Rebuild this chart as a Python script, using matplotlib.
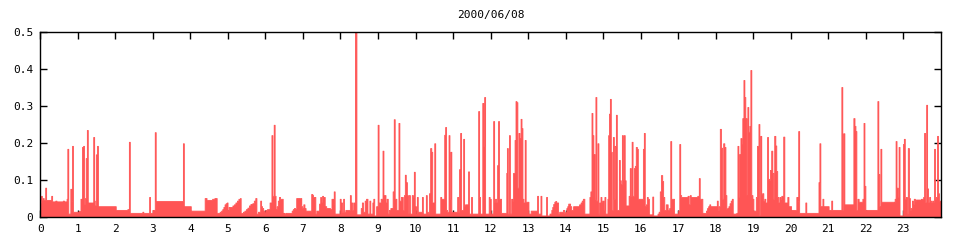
import numpy as np
import matplotlib
matplotlib.use("Agg")
import matplotlib.pyplot as plt

# each pair = (hour where the bar starts, value); a bar lasts until the next pair
hours_00_04 = [
    (0.00, 0.038), (0.02, 0.058), (0.04, 0.047), (0.07, 0.052), (0.09, 0.047),
    (0.13, 0.080), (0.155, 0.047), (0.29, 0.058), (0.315, 0.043), (0.40, 0.045),
    (0.43, 0.043), (0.60, 0.045), (0.63, 0.043), (0.70, 0.050), (0.72, 0.185),
    (0.745, 0.010), (0.80, 0.077), (0.825, 0.045), (0.845, 0.193), (0.87, 0.015),
    (1.02, 0.017), (1.07, 0.050), (1.095, 0.018), (1.11, 0.190), (1.14, 0.193),
    (1.165, 0.035), (1.19, 0.052), (1.21, 0.160), (1.24, 0.236), (1.265, 0.040),
    (1.41, 0.217), (1.435, 0.045), (1.45, 0.032), (1.48, 0.170), (1.51, 0.193),
    (1.535, 0.030), (2.01, 0.020), (2.32, 0.022), (2.345, 0.020), (2.36, 0.204),
    (2.385, 0.012), (2.72, 0.015), (2.745, 0.012), (2.90, 0.055), (2.925, 0.012),
    (2.99, 0.020), (3.05, 0.230), (3.075, 0.044), (3.80, 0.200), (3.825, 0.030),
]
hours_04_09 = [
    (4.01, 0.018), (4.38, 0.052), (4.43, 0.047), (4.58, 0.050), (4.64, 0.052),
    (4.70, 0.012), (4.78, 0.015), (4.82, 0.018), (4.85, 0.022), (4.88, 0.028),
    (4.91, 0.035), (4.94, 0.038), (4.97, 0.040), (4.99, 0.020), (5.02, 0.028),
    (5.12, 0.032), (5.16, 0.035), (5.20, 0.040), (5.24, 0.045), (5.28, 0.050),
    (5.32, 0.052), (5.34, 0.012), (5.40, 0.015), (5.44, 0.018), (5.48, 0.022),
    (5.52, 0.026), (5.56, 0.032), (5.60, 0.036), (5.65, 0.038), (5.69, 0.045),
    (5.73, 0.052), (5.76, 0.010), (5.80, 0.015), (5.86, 0.045), (5.885, 0.030),
    (5.91, 0.025), (5.94, 0.018), (5.97, 0.015), (6.00, 0.020), (6.04, 0.022),
    (6.11, 0.040), (6.16, 0.222), (6.185, 0.058), (6.22, 0.250), (6.245, 0.058),
    (6.27, 0.022), (6.30, 0.030), (6.33, 0.045), (6.36, 0.055), (6.39, 0.050),
    (6.46, 0.005), (6.48, 0.012), (6.51, 0.010), (6.54, 0.012), (6.70, 0.018),
    (6.73, 0.022), (6.76, 0.025), (6.79, 0.022), (6.82, 0.052), (6.91, 0.035),
    (6.93, 0.052), (6.955, 0.030), (6.98, 0.025), (7.01, 0.035), (7.04, 0.025),
    (7.07, 0.018), (7.22, 0.063), (7.25, 0.060), (7.27, 0.055), (7.33, 0.010),
    (7.36, 0.018), (7.43, 0.037), (7.46, 0.055), (7.48, 0.040), (7.51, 0.058),
    (7.535, 0.055), (7.58, 0.030), (7.62, 0.025), (7.72, 0.022), (7.76, 0.050),
    (7.80, 0.035), (7.82, 0.070), (7.845, 0.010), (7.98, 0.050), (8.005, 0.040),
    (8.04, 0.015), (8.07, 0.050), (8.095, 0.015), (8.13, 0.020), (8.25, 0.060),
    (8.275, 0.040), (8.31, 0.020), (8.34, 0.040), (8.385, 0.500), (8.425, 0.008),
    (8.54, 0.025), (8.57, 0.040), (8.60, 0.015), (8.645, 0.045), (8.68, 0.050),
    (8.72, 0.010), (8.77, 0.045), (8.795, 0.010), (8.85, 0.040), (8.875, 0.050),
    (8.90, 0.005), (8.95, 0.030),
]
hours_09_14 = [
    (8.99, 0.250), (9.015, 0.040), (9.07, 0.050), (9.12, 0.180), (9.145, 0.060),
    (9.20, 0.040), (9.23, 0.050), (9.26, 0.010), (9.29, 0.020), (9.33, 0.025),
    (9.39, 0.070), (9.42, 0.265), (9.445, 0.050), (9.49, 0.020), (9.545, 0.255),
    (9.57, 0.045), (9.61, 0.055), (9.66, 0.020), (9.69, 0.060), (9.715, 0.115),
    (9.74, 0.095), (9.77, 0.060), (9.795, 0.012), (9.82, 0.060), (9.85, 0.010),
    (9.90, 0.060), (9.93, 0.055), (9.955, 0.123), (9.98, 0.030), (10.01, 0.012),
    (10.035, 0.055), (10.06, 0.015), (10.17, 0.055), (10.195, 0.010), (10.275, 0.060),
    (10.30, 0.015), (10.33, 0.010), (10.36, 0.065), (10.39, 0.187), (10.42, 0.177),
    (10.445, 0.040), (10.50, 0.200), (10.525, 0.010), (10.66, 0.055), (10.685, 0.050),
    (10.765, 0.223), (10.79, 0.244), (10.815, 0.020), (10.84, 0.015), (10.88, 0.222),
    (10.905, 0.050), (10.93, 0.177), (10.955, 0.015), (11.11, 0.055), (11.135, 0.015),
    (11.16, 0.130), (11.19, 0.228), (11.215, 0.020), (11.27, 0.212), (11.295, 0.030),
    (11.32, 0.035), (11.40, 0.124), (11.425, 0.010), (11.48, 0.055), (11.505, 0.010),
    (11.67, 0.287), (11.695, 0.055), (11.72, 0.010), (11.78, 0.309), (11.805, 0.193),
    (11.83, 0.325), (11.855, 0.010), (11.95, 0.055), (11.975, 0.050), (12.005, 0.010),
    (12.07, 0.260), (12.095, 0.040), (12.12, 0.050), (12.145, 0.040), (12.175, 0.141),
    (12.20, 0.260), (12.225, 0.050), (12.28, 0.012), (12.42, 0.120), (12.435, 0.187),
    (12.46, 0.010), (12.49, 0.222), (12.515, 0.010), (12.55, 0.050), (12.575, 0.045),
    (12.60, 0.120), (12.64, 0.209), (12.665, 0.314), (12.69, 0.311), (12.715, 0.080),
    (12.745, 0.228), (12.77, 0.214), (12.80, 0.266), (12.825, 0.241), (12.85, 0.050),
    (12.875, 0.040), (12.91, 0.209), (12.935, 0.042), (13.01, 0.010), (13.07, 0.018),
    (13.24, 0.058), (13.265, 0.010), (13.33, 0.058), (13.355, 0.005), (13.48, 0.055),
    (13.505, 0.005), (13.57, 0.010), (13.62, 0.020), (13.645, 0.028), (13.67, 0.036),
    (13.70, 0.042), (13.725, 0.044), (13.75, 0.040), (13.80, 0.010), (13.83, 0.015),
    (13.93, 0.020), (13.96, 0.012), (13.99, 0.015), (14.02, 0.025), (14.045, 0.030),
    (14.07, 0.037), (14.12, 0.030), (14.15, 0.020), (14.20, 0.030),
]
hours_14_19 = [
    (14.32, 0.030), (14.36, 0.035), (14.40, 0.040), (14.43, 0.045), (14.46, 0.050),
    (14.50, 0.010), (14.635, 0.055), (14.66, 0.070), (14.69, 0.282), (14.715, 0.222),
    (14.74, 0.171), (14.77, 0.050), (14.795, 0.325), (14.82, 0.045), (14.85, 0.200),
    (14.875, 0.010), (14.90, 0.040), (14.93, 0.055), (14.955, 0.040), (14.98, 0.045),
    (15.01, 0.020), (15.035, 0.055), (15.06, 0.010), (15.115, 0.050), (15.135, 0.222),
    (15.155, 0.280), (15.18, 0.320), (15.205, 0.177), (15.23, 0.020), (15.26, 0.217),
    (15.285, 0.050), (15.31, 0.193), (15.34, 0.277), (15.365, 0.020), (15.42, 0.155),
    (15.445, 0.100), (15.47, 0.090), (15.50, 0.222), (15.525, 0.100), (15.55, 0.222),
    (15.575, 0.100), (15.60, 0.032), (15.68, 0.058), (15.71, 0.133), (15.735, 0.058),
    (15.76, 0.204), (15.785, 0.058), (15.82, 0.133), (15.845, 0.139), (15.87, 0.190),
    (15.90, 0.185), (15.925, 0.050), (16.06, 0.185), (16.085, 0.228), (16.11, 0.030),
    (16.14, 0.035), (16.165, 0.055), (16.19, 0.050), (16.22, 0.008), (16.31, 0.056),
    (16.335, 0.005), (16.45, 0.010), (16.48, 0.015), (16.51, 0.070), (16.54, 0.114),
    (16.575, 0.098), (16.60, 0.055), (16.63, 0.020), (16.67, 0.035), (16.72, 0.020),
    (16.76, 0.025), (16.79, 0.206), (16.815, 0.050), (16.89, 0.010), (17.00, 0.018),
    (17.03, 0.198), (17.055, 0.060), (17.08, 0.055), (17.25, 0.058), (17.28, 0.035),
    (17.31, 0.060), (17.335, 0.055), (17.51, 0.058), (17.55, 0.106), (17.575, 0.050),
    (17.645, 0.012), (17.74, 0.018), (17.77, 0.025), (17.80, 0.030), (17.83, 0.035),
    (17.855, 0.030), (18.03, 0.045), (18.055, 0.020), (18.08, 0.030), (18.11, 0.239),
    (18.14, 0.188), (18.17, 0.050), (18.20, 0.200), (18.23, 0.190), (18.26, 0.060),
    (18.285, 0.022), (18.31, 0.025), (18.34, 0.030), (18.37, 0.038), (18.40, 0.045),
    (18.43, 0.050), (18.455, 0.010), (18.55, 0.012), (18.58, 0.193), (18.605, 0.055),
    (18.63, 0.171), (18.66, 0.214), (18.685, 0.198), (18.71, 0.268), (18.74, 0.371),
    (18.765, 0.325), (18.79, 0.268), (18.82, 0.060), (18.845, 0.298), (18.87, 0.231),
    (18.90, 0.247), (18.925, 0.398), (18.95, 0.060), (18.98, 0.050), (19.005, 0.018),
    (19.07, 0.055), (19.10, 0.193), (19.14, 0.252), (19.165, 0.005),
]
hours_19_24 = [
    (19.19, 0.220), (19.215, 0.060), (19.24, 0.065), (19.27, 0.045), (19.30, 0.050),
    (19.325, 0.040), (19.37, 0.217), (19.395, 0.104), (19.42, 0.100), (19.445, 0.128),
    (19.48, 0.180), (19.51, 0.120), (19.535, 0.050), (19.56, 0.220), (19.59, 0.194),
    (19.615, 0.125), (19.64, 0.055), (19.67, 0.040), (19.70, 0.055), (19.725, 0.050),
    (19.75, 0.058), (19.80, 0.218), (19.83, 0.040), (19.91, 0.055), (19.94, 0.030),
    (20.01, 0.020), (20.15, 0.055), (20.18, 0.045), (20.20, 0.233), (20.225, 0.012),
    (20.39, 0.040), (20.415, 0.012), (20.74, 0.095), (20.765, 0.200), (20.79, 0.030),
    (20.845, 0.050), (20.87, 0.030), (21.01, 0.020), (21.08, 0.045), (21.105, 0.020),
    (21.35, 0.352), (21.375, 0.020), (21.40, 0.227), (21.43, 0.035), (21.67, 0.268),
    (21.70, 0.247), (21.725, 0.233), (21.75, 0.020), (21.78, 0.050), (21.81, 0.042),
    (21.91, 0.050), (21.94, 0.255), (21.965, 0.085), (21.99, 0.020), (22.31, 0.314),
    (22.335, 0.117), (22.36, 0.030), (22.39, 0.185), (22.415, 0.042), (22.76, 0.040),
    (22.77, 0.050), (22.795, 0.206), (22.82, 0.080), (22.85, 0.055), (22.875, 0.190),
    (22.90, 0.005), (22.99, 0.198), (23.015, 0.212), (23.04, 0.050), (23.07, 0.055),
    (23.095, 0.010), (23.12, 0.187), (23.15, 0.052), (23.175, 0.020), (23.20, 0.025),
    (23.23, 0.045), (23.255, 0.035), (23.28, 0.050), (23.31, 0.045), (23.335, 0.048),
    (23.47, 0.050), (23.53, 0.055), (23.555, 0.228), (23.58, 0.040), (23.61, 0.304),
    (23.635, 0.078), (23.66, 0.040), (23.69, 0.055), (23.715, 0.045), (23.74, 0.040),
    (23.77, 0.045), (23.795, 0.040), (23.82, 0.185), (23.845, 0.050), (23.87, 0.055),
    (23.90, 0.220), (23.925, 0.065), (23.95, 0.045),
]

x_labels = [str(h) for h in range(24)]
y_ticks = [0, 0.1, 0.2, 0.3, 0.4, 0.5]
y_labels = ["0", "0.1", "0.2", "0.3", "0.4", "0.5"]
title = "2000/06/08"

rows = hours_00_04 + hours_04_09 + hours_09_14 + hours_14_19 + hours_19_24
rows.sort()
t = np.array([r[0] for r in rows] + [24.0])
v = np.array([r[1] for r in rows] + [rows[-1][1]])

plt.rcParams["font.family"] = "DejaVu Sans Mono"
fig = plt.figure(figsize=(9.6, 2.4), dpi=100)
ax = fig.add_axes([0.042, 0.0946, 0.938, 0.771])

# thin edge in the same colour so 1px spikes don't vanish
ax.fill_between(t, v, step="post", facecolor="#ff5555", edgecolor="#ff5555",
                linewidth=0.6, antialiased=False, zorder=2)

ax.set_xlim(0, 24)
ax.set_ylim(0, 0.5)
ax.set_xticks(range(24))
ax.set_xticklabels(x_labels)
ax.set_yticks(y_ticks)
ax.set_yticklabels(y_labels)
ax.tick_params(direction="in", length=5, width=1, top=True, right=True,
               labelsize=8, pad=5, colors="black")
for s in ax.spines.values():
    s.set_linewidth(1)
    s.set_zorder(3)
ax.set_title(title, fontsize=8, pad=10)

fig.savefig("out.png", dpi=100)
